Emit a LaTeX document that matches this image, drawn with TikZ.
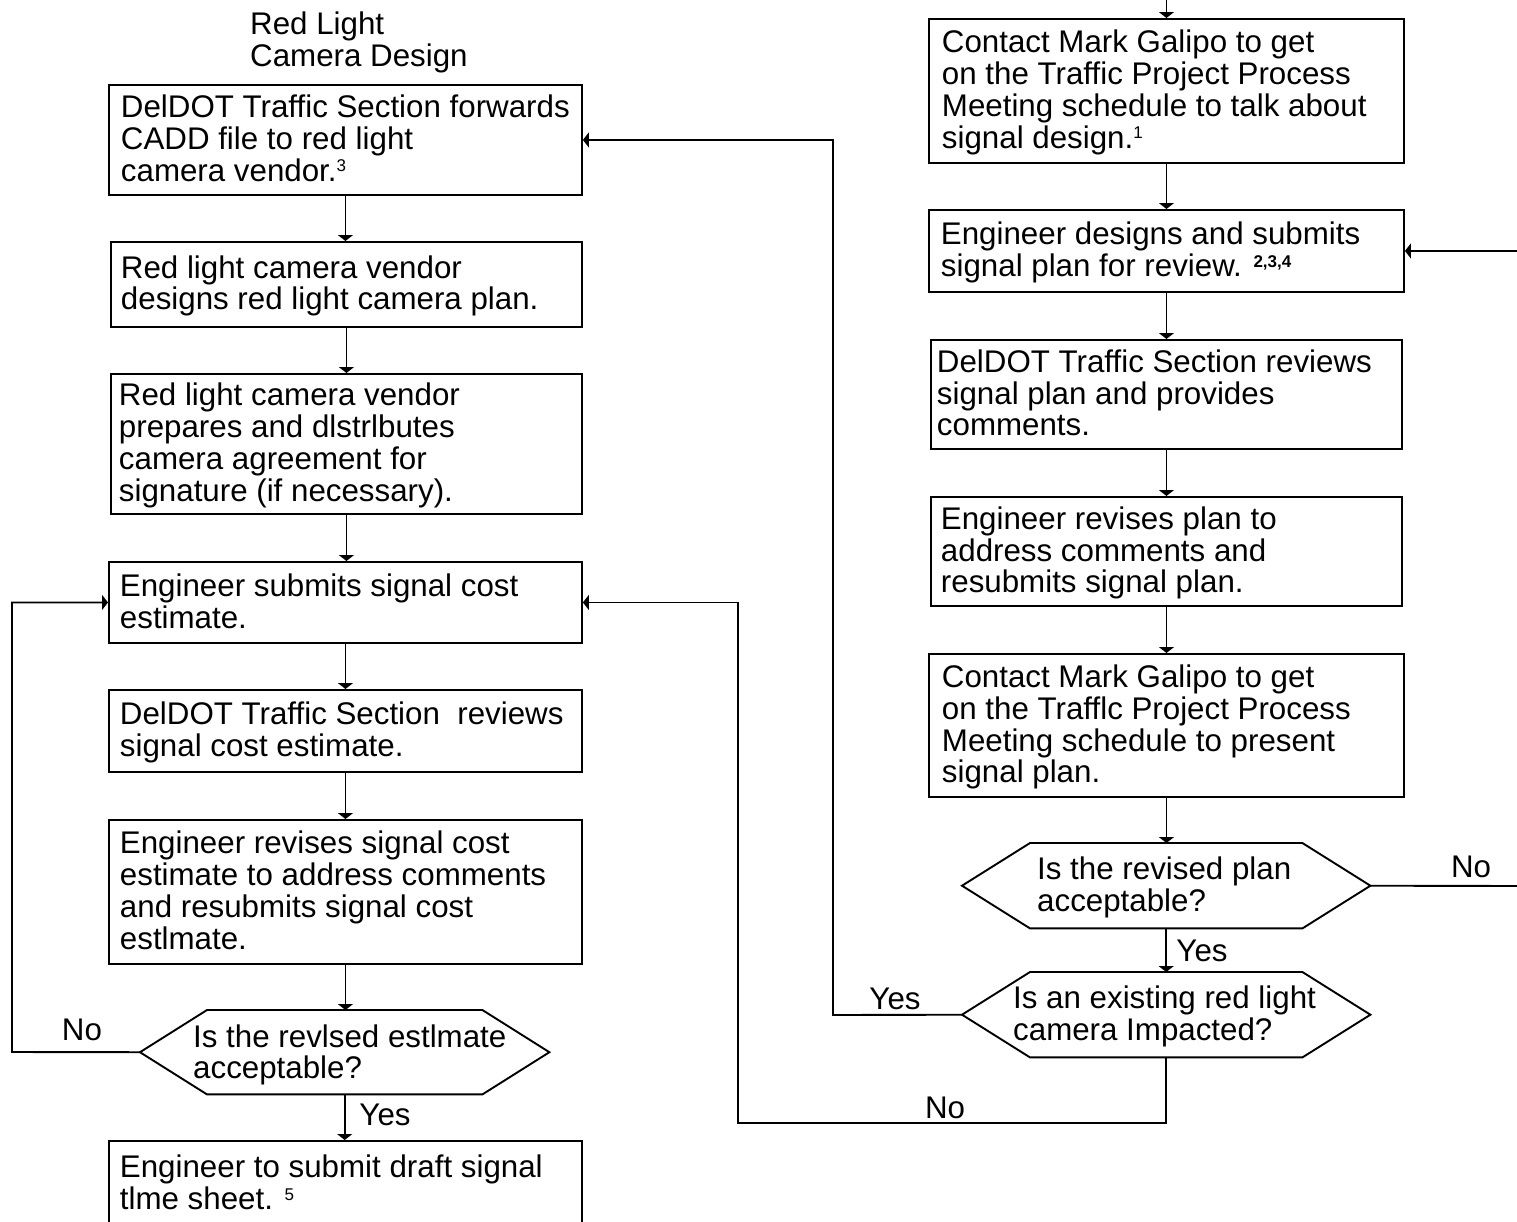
\documentclass[tikz,border=0pt]{standalone}
\usepackage{fontspec}
\setmainfont{Liberation Sans}
\usetikzlibrary{arrows.meta}
\newcommand\tl[1]{\begin{tabular}{@{}l@{}}#1\end{tabular}}
\newcommand\bl[1]{\begin{tabular}{@{}l@{}}\rule{0pt}{28.4pt}#1\end{tabular}}
\newcommand\sups[2][10pt]{\raisebox{#1}{\fontsize{17}{17}\selectfont #2}}
\begin{document}
\begin{tikzpicture}[x=1pt,y=-1pt,
  fnt/.style={font=\fontsize{31.3}{30.6}\selectfont},
  box/.style={fnt, draw, line width=1.9pt, anchor=north west, inner xsep=0pt, inner ysep=0pt},
  hexb/.style={anchor=north west, inner sep=0pt},
  hexline/.style={line width=1.9pt, line join=miter},
  txt/.style={fnt, inner sep=0pt},
  arr/.style={line width=1.9pt, -{Triangle[width=15pt,length=6pt]}},
  ln/.style={line width=1.9pt}]
\useasboundingbox (0,0) rectangle (1517,1221);

% title
\node[txt, anchor=north west] (title) at (250,12) {\tl{Red Light\\Camera Design}};

% left column
\node[box, minimum width=473pt, minimum height=110pt] (b1) at (108,84)
  {\makebox[449pt][l]{\bl{DelDOT Traffic Section forwards\\CADD file to red light\\camera vendor.\sups{3}}}};
\node[box, minimum width=471pt, minimum height=85pt] (b2) at (110,241)
  {\makebox[451pt][l]{\bl{Red light camera vendor\\designs red light camera plan.}}};
\node[box, minimum width=471pt, minimum height=140pt] (b3) at (110,373)
  {\makebox[455pt][l]{\bl{Red light camera vendor\\prepares and dlstrlbutes\\camera agreement for\\signature (if necessary).}}};
\node[box, minimum width=473pt, minimum height=81pt] (b4) at (108,561)
  {\makebox[451pt][l]{\bl{Engineer submits signal cost\\estimate.}}};
\node[box, minimum width=473pt, minimum height=82pt] (b5) at (108,689)
  {\makebox[451pt][l]{\bl{DelDOT Traffic Section\ \ reviews\\signal cost estimate.}}};
\node[box, minimum width=473pt, minimum height=144pt] (b6) at (108,819)
  {\makebox[451pt][l]{\bl{Engineer revises signal cost\\estimate to address comments\\and resubmits signal cost\\estlmate.}}};
\node[hexb, minimum width=409pt, minimum height=84pt] (h1) at (140,1010) {};
\draw[hexline] (h1.west) -- ([xshift=67pt]h1.north west) -- ([xshift=-67pt]h1.north east) -- (h1.east)
  -- ([xshift=-67pt]h1.south east) -- ([xshift=67pt]h1.south west) -- cycle;
\node[txt, anchor=west] (h1t) at ([xshift=53pt,yshift=-4pt]h1.west) {\tl{Is the revlsed estlmate\\acceptable?}};
\node[box, minimum width=473pt, minimum height=86pt] (b7) at (108,1140)
  {\makebox[451pt][l]{\bl{Engineer to submit draft signal\\tlme sheet. \sups[9pt]{5}}}};

% right column
\node[box, minimum width=475pt, minimum height=144pt] (r1) at (928,18)
  {\makebox[449pt][l]{\bl{Contact Mark Galipo to get\\on the Traffic Project Process\\Meeting schedule to talk about\\signal design.\sups{1}}}};
\node[box, minimum width=475pt, minimum height=82pt] (r2) at (928,209)
  {\makebox[451pt][l]{\bl{Engineer designs and submits\\signal plan for review. \sups[9pt]{\bfseries 2,3,4}}}};
\node[box, minimum width=471pt, minimum height=109pt] (r3) at (930,339)
  {\makebox[459pt][l]{\bl{DelDOT Traffic Section reviews\\signal plan and provides\\comments.}}};
\node[box, minimum width=471pt, minimum height=109pt] (r4) at (930,496)
  {\makebox[451pt][l]{\bl{Engineer revises plan to\\address comments and\\resubmits signal plan.}}};
\node[box, minimum width=475pt, minimum height=143pt] (r5) at (928,653)
  {\makebox[449pt][l]{\bl{Contact Mark Galipo to get\\on the Trafflc Project Process\\Meeting schedule to present\\signal plan.}}};
\node[hexb, minimum width=408pt, minimum height=85pt] (h2) at (962,843) {};
\draw[hexline] (h2.west) -- ([xshift=68pt]h2.north west) -- ([xshift=-68pt]h2.north east) -- (h2.east)
  -- ([xshift=-68pt]h2.south east) -- ([xshift=68pt]h2.south west) -- cycle;
\node[txt, anchor=west] (h2t) at ([xshift=75pt,yshift=-3pt]h2.west) {\tl{Is the revised plan\\acceptable?}};
\node[hexb, minimum width=408pt, minimum height=85pt] (h3) at (962,972) {};
\draw[hexline] (h3.west) -- ([xshift=68pt]h3.north west) -- ([xshift=-68pt]h3.north east) -- (h3.east)
  -- ([xshift=-68pt]h3.south east) -- ([xshift=68pt]h3.south west) -- cycle;
\node[txt, anchor=west] (h3t) at ([xshift=51pt,yshift=-3pt]h3.west) {\tl{Is an existing red light\\camera Impacted?}};

% coordinates for connector bends
\coordinate (top) at (1166,-10);
\coordinate (cl) at (12,1052);
\coordinate (cb) at (738,1123);
\coordinate (cy) at (833,1015);
\coordinate (cr) at (1524,886);

% left column connectors
\draw[arr] (b1.south) -- (b1.south |- b2.north);
\draw[arr] (b2.south) -- (b2.south |- b3.north);
\draw[arr] (b3.south) -- (b3.south |- b4.north);
\draw[arr] (b4.south) -- (b4.south |- b5.north);
\draw[arr] (b5.south) -- (b5.south |- b6.north);
\draw[arr] (b6.south) -- (b6.south |- h1.north);
\draw[arr] (h1.south) -- (h1.south |- b7.north);
\draw[arr] (h1.west) -- (cl) |- (b4.west);

% right column connectors
\draw[arr] (r1.north |- top) -- (r1.north);
\draw[arr] (r1.south) -- (r1.south |- r2.north);
\draw[arr] (r2.south) -- (r2.south |- r3.north);
\draw[arr] (r3.south) -- (r3.south |- r4.north);
\draw[arr] (r4.south) -- (r4.south |- r5.north);
\draw[arr] (r5.south) -- (r5.south |- h2.north);
\draw[arr] (h2.south) -- (h2.south |- h3.north);
\draw[arr] (h2.east) -- (cr) |- (r2.east);
\draw[arr] (h3.west) -- (cy) |- (b1.east);
\draw[arr] (h3.south) |- (cb) |- (b4.east);

% labels
\node[txt] (lno1) at (82,1030) {No};
\node[txt] (lyes1) at (385,1115) {Yes};
\node[txt] (lno2) at (1471,867) {No};
\node[txt] (lyes2) at (1202,951) {Yes};
\node[txt] (lyes3) at (895,999) {Yes};
\node[txt] (lno3) at (945,1108) {No};
\end{tikzpicture}
\end{document}
